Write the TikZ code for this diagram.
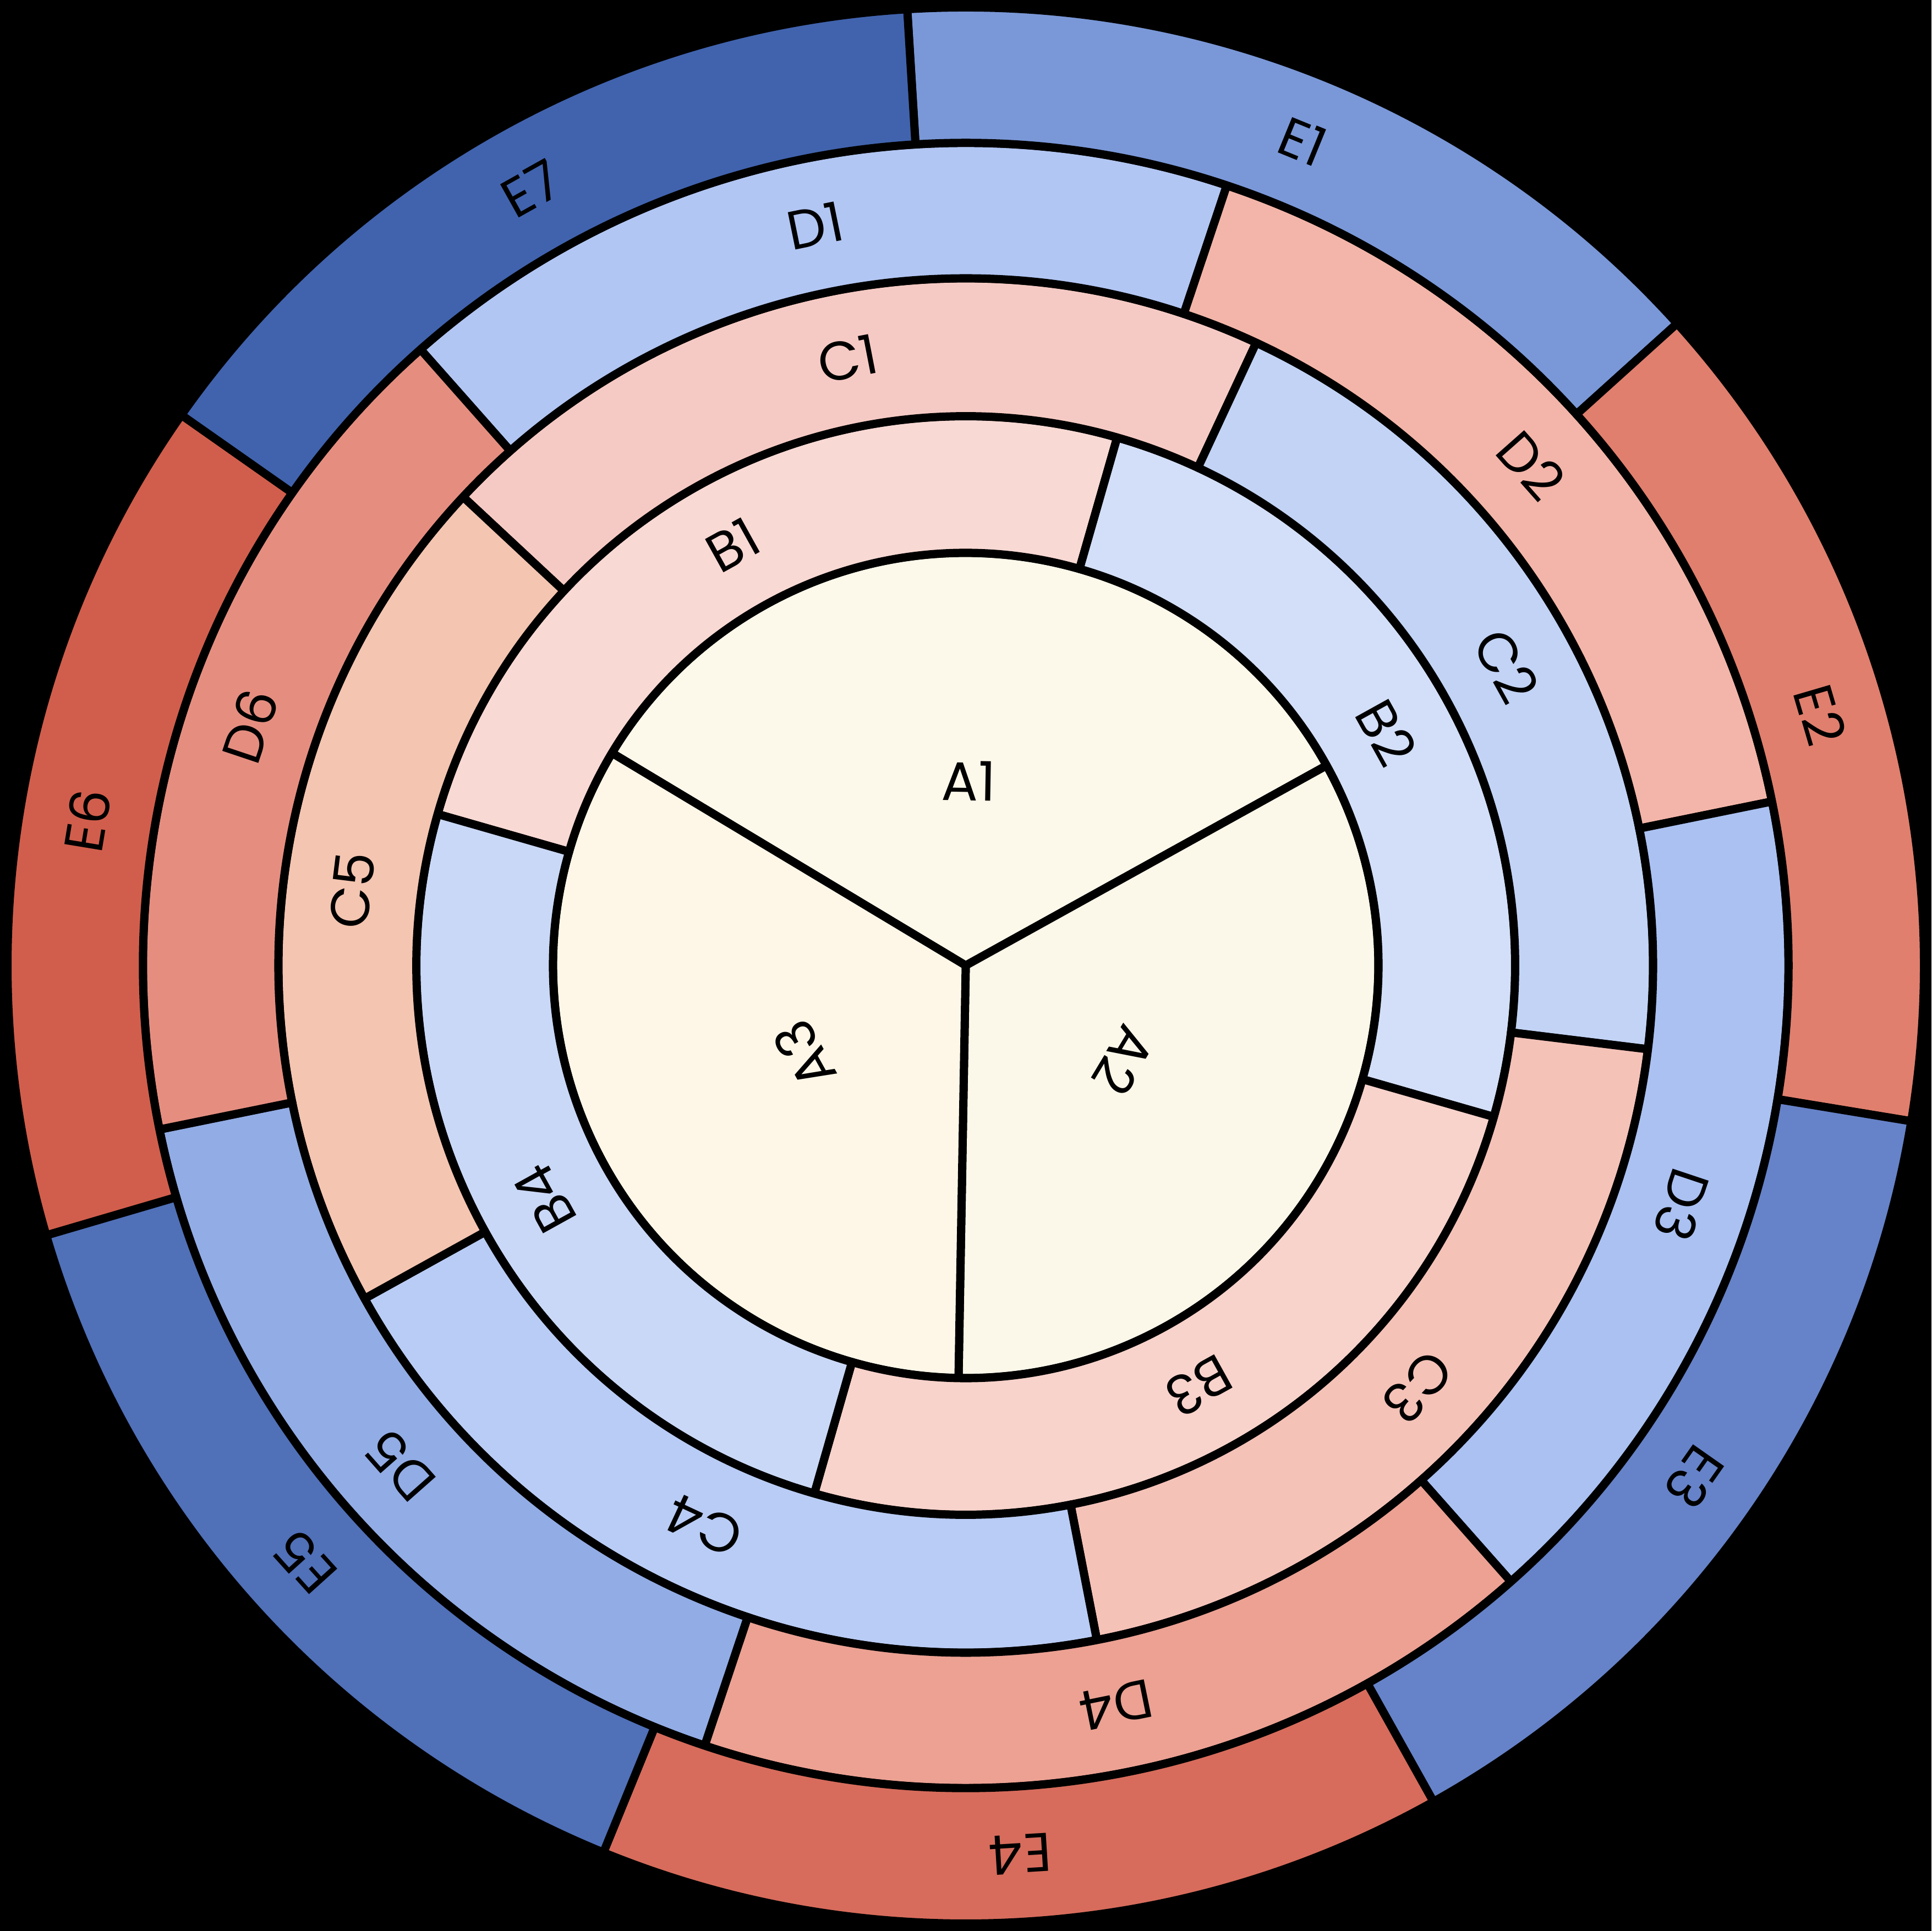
\documentclass[tikz,border=0pt]{standalone}
\usepackage{fontspec}
\setmainfont{Poppins}
\usepackage{xcolor}
\definecolor{colA1}{HTML}{FCF8EA}
\definecolor{colA2}{HTML}{FBF7E9}
\definecolor{colA3}{HTML}{FEF7E8}
\definecolor{colB1}{HTML}{F9D9D4}
\definecolor{colB2}{HTML}{D3DFF8}
\definecolor{colB3}{HTML}{F8D3CB}
\definecolor{colB4}{HTML}{CAD8F7}
\definecolor{colC1}{HTML}{F6CAC4}
\definecolor{colC2}{HTML}{C2D3F5}
\definecolor{colC3}{HTML}{F5C2B8}
\definecolor{colC4}{HTML}{B9CCF5}
\definecolor{colC5}{HTML}{F4C5B1}
\definecolor{colD1}{HTML}{B2C6F3}
\definecolor{colD2}{HTML}{F3B5A9}
\definecolor{colD3}{HTML}{AAC1F2}
\definecolor{colD4}{HTML}{ECA193}
\definecolor{colD5}{HTML}{92ACE5}
\definecolor{colD6}{HTML}{E58E80}
\definecolor{colE1}{HTML}{7A98D8}
\definecolor{colE2}{HTML}{E07F6E}
\definecolor{colE3}{HTML}{6683C9}
\definecolor{colE4}{HTML}{D76C5C}
\definecolor{colE5}{HTML}{5070B8}
\definecolor{colE6}{HTML}{D15E4C}
\definecolor{colE7}{HTML}{4163AE}

\begin{document}
\begin{tikzpicture}[x=1cm,y=1cm,
seg/.style={draw=black,line width=1.9pt,line join=round},
seglabel/.style={font=\fontsize{12.6}{14}\selectfont,text=black,inner sep=0pt}]
\fill[black] (-7.84,-7.84) rectangle (7.84,7.84);
\useasboundingbox (-7.84,-7.84) rectangle (7.84,7.84);
% centre ring, three wedges
\foreach \i in {1,2,3}{
  \pgfmathsetmacro{\aend}{149-(\i-1)*120}
  \pgfmathsetmacro{\astart}{\aend-120}
  \pgfmathsetmacro{\amid}{\aend-60}
  \fill[seg,fill=colA\i] (0,0) -- (\astart:3.35) arc[start angle=\astart,end angle=\aend,radius=3.35] -- cycle;
  \node[seglabel,rotate=\amid-90] (labA\i) at (\amid:1.5) {A\i};
}
% outer rings
\foreach \ring/\rin/\rout/\n/\aone/\rlab in {B/3.35/4.46/4/164/3.905,C/4.46/5.58/5/137/5.02,D/5.58/6.68/6/131.5/6.13,E/6.68/7.78/7/93.5/7.23}{
  \pgfmathsetmacro{\sweep}{360/\n}
  \foreach \i in {1,...,\n}{
    \pgfmathsetmacro{\aend}{\aone-(\i-1)*\sweep}
    \pgfmathsetmacro{\astart}{\aend-\sweep}
    \pgfmathsetmacro{\amid}{\aend-\sweep/2}
    \fill[seg,fill=col\ring\i] (\astart:\rin) arc[start angle=\astart,end angle=\aend,radius=\rin]
      -- (\aend:\rout) arc[start angle=\aend,end angle=\astart,radius=\rout] -- cycle;
    \node[seglabel,rotate=\amid-90] (lab\ring\i) at (\amid:\rlab) {\ring\i};
  }
}
\end{tikzpicture}
\end{document}
